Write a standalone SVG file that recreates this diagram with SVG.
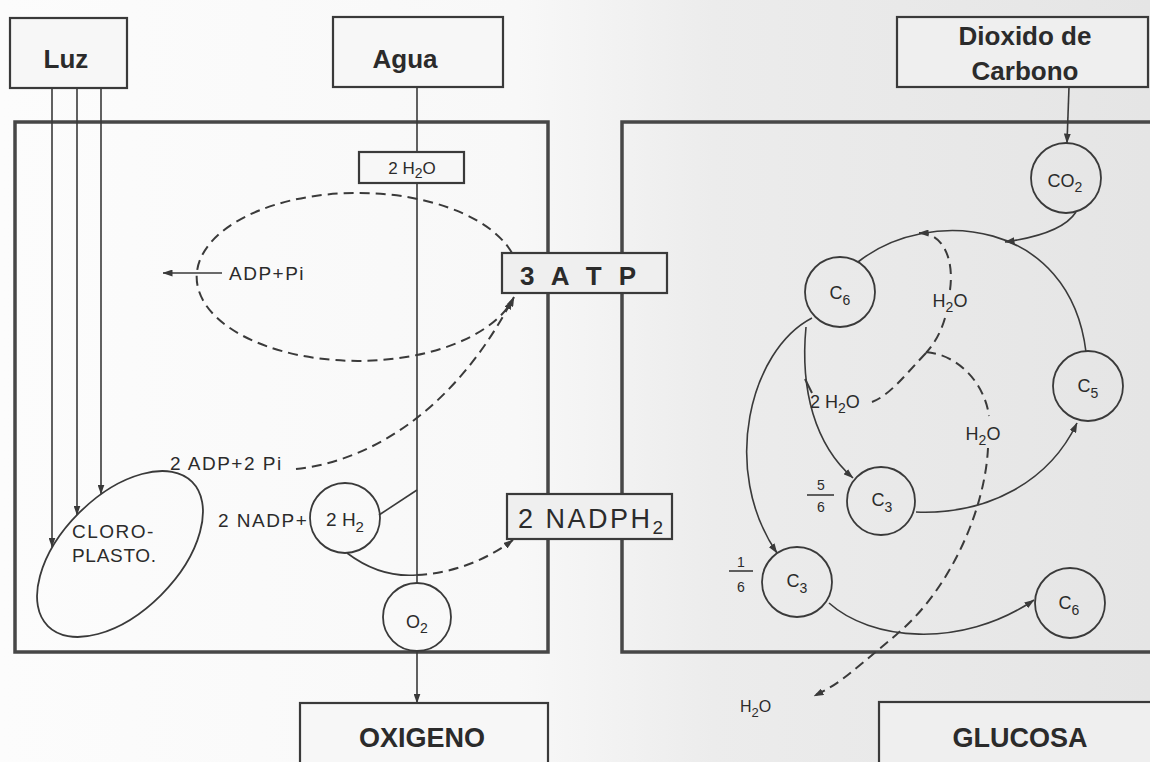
<svg xmlns="http://www.w3.org/2000/svg" width="1150" height="762" viewBox="0 0 1150 762">
<defs>
<linearGradient id="bg" x1="0" y1="0" x2="1" y2="0">
<stop offset="0" stop-color="#fcfcfc"/><stop offset="0.45" stop-color="#f8f8f8"/><stop offset="0.62" stop-color="#ececec"/><stop offset="1" stop-color="#e5e5e5"/>
</linearGradient>
<marker id="arr" viewBox="0 0 10 7" refX="9.5" refY="3.5" markerWidth="10" markerHeight="7" markerUnits="userSpaceOnUse" orient="auto"><path d="M0,0 L10,3.5 L0,7 Z" fill="#3a3a3a"/></marker>
<style>
.ln{fill:none;stroke:#3a3a3a;stroke-width:1.6}
.ds{fill:none;stroke:#3a3a3a;stroke-width:2;stroke-dasharray:10 6}
.box{fill:#f7f7f7;stroke:#3a3a3a;stroke-width:2.2}
.boxg{fill:#efefef;stroke:#3a3a3a;stroke-width:2.2}
.panel{fill:none;stroke:#474747;stroke-width:3.5}
.node{fill:none;stroke:#3a3a3a;stroke-width:1.8}
text{font-family:"Liberation Sans",Arial,sans-serif;fill:#2b2b2b}
.h{font-size:26px;font-weight:bold}
.m{font-size:19px;letter-spacing:1.5px}
.s{font-size:14px}
.c{font-size:18px}
</style>
</defs>
<rect x="0" y="0" width="1150" height="762" fill="url(#bg)"/>

<g id="panel-left"><rect class="panel" x="15" y="122" width="533" height="530"/></g>
<g id="panel-right"><rect class="panel" x="622" y="122" width="545" height="530"/></g>

<g id="connectors">
  <!-- Luz rays -->
  <line class="ln" x1="52" y1="88" x2="52" y2="547" marker-end="url(#arr)"/>
  <line class="ln" x1="77" y1="88" x2="77" y2="515" marker-end="url(#arr)"/>
  <line class="ln" x1="101" y1="88" x2="101" y2="494" marker-end="url(#arr)"/>
  <!-- Agua line -->
  <line class="ln" x1="417" y1="87" x2="417" y2="583"/>
  <!-- O2 to Oxigeno -->
  <line class="ln" x1="417" y1="651" x2="417" y2="703" marker-end="url(#arr)"/>
  <!-- ATP cycle dashed ellipse -->
  <path class="ds" d="M512 253 A161 84 0 1 0 514 297" marker-end="url(#arr)"/>
  <!-- ADP + Pi released -->
  <line class="ln" x1="222" y1="273" x2="163" y2="273" marker-end="url(#arr)"/>
  <!-- 2ADP+2Pi to ATP -->
  <path class="ds" d="M296 469 C380 460 460 400 512 300" marker-end="url(#arr)"/>
  <!-- 2H2 from water -->
  <line class="ln" x1="379" y1="515" x2="417" y2="490"/>
  <path class="ln" d="M347 553 Q380 578 417 575"/>
  <path class="ds" d="M417 575 Q470 572 513 540" marker-end="url(#arr)"/>
  <!-- CO2 -->
  <line class="ln" x1="1069" y1="87" x2="1067" y2="143" marker-end="url(#arr)"/>
  <path class="ln" d="M1076 212 Q1062 234 1005 242" marker-end="url(#arr)"/>
  <!-- Calvin cycle -->
  <path class="ln" d="M858 262 C930 205 1070 220 1086 352"/>
  <path class="ln" d="M812 318 C750 350 720 470 777 553" marker-end="url(#arr)"/>
  <path class="ln" d="M806 327 C800 390 815 445 853 478" marker-end="url(#arr)"/>
  <path class="ln" d="M916 512 C990 515 1050 480 1077 423" marker-end="url(#arr)"/>
  <path class="ln" d="M829 603 C870 640 960 650 1034 600" marker-end="url(#arr)"/>
  <!-- water dashed lines -->
  <path class="ds" d="M950 290 C954 262 945 233 919 233" marker-end="url(#arr)"/>
  <path class="ds" d="M945 318 C940 335 933 345 926 353"/>
  <path class="ds" d="M926 353 C905 375 890 395 872 402"/>
  <path class="ds" d="M926 352 C960 355 985 385 989 416"/>
  <path class="ds" d="M988 448 C985 510 950 590 896 635 S840 683 814 696" marker-end="url(#arr)"/>
  <line class="ds" x1="805" y1="379" x2="812" y2="393" style="stroke-dasharray:none"/>
</g>

<g id="luz"><rect class="box" x="10" y="18" width="117" height="70"/><text class="h" x="66" y="68" text-anchor="middle">Luz</text></g>
<g id="agua"><rect class="box" x="333" y="17" width="170" height="70"/><text class="h" x="405" y="68" text-anchor="middle">Agua</text></g>
<g id="dioxido"><rect class="boxg" x="897" y="17" width="251" height="70"/><text class="h" x="1025" y="45" text-anchor="middle">Dioxido de</text><text class="h" x="1025" y="80" text-anchor="middle">Carbono</text></g>

<g id="h2o-box"><rect class="box" x="359" y="152" width="105" height="31"/><text x="412" y="174" font-size="17" text-anchor="middle">2 H<tspan font-size="14" dy="4">2</tspan><tspan dy="-4">O</tspan></text></g>
<g id="atp"><rect class="boxg" x="502" y="253" width="165" height="40"/><text class="h" x="520" y="285" letter-spacing="5">3 A T P</text></g>
<g id="nadph"><rect class="boxg" x="507" y="494" width="165" height="45"/><text x="518" y="528" font-size="27" letter-spacing="2.5">2 NADPH<tspan font-size="19" dy="6">2</tspan></text></g>

<g id="adp-pi"><text class="m" x="229" y="280">ADP+Pi</text></g>
<g id="adp2"><text class="m" x="170" y="470">2 ADP+2 Pi</text></g>
<g id="nadp"><text class="m" x="218" y="527">2 NADP+</text></g>

<g id="cloroplasto">
  <ellipse class="node" cx="120" cy="554" rx="102" ry="58" transform="rotate(-45 120 554)"/>
  <text class="m" x="72" y="538">CLORO-</text>
  <text x="72" y="562" font-size="19" letter-spacing="0.7">PLASTO.</text>
</g>

<g id="h2-circle"><circle class="node" cx="345" cy="518" r="35"/><text x="345" y="526" font-size="19" text-anchor="middle">2 H<tspan font-size="15" dy="6">2</tspan></text></g>
<g id="o2-circle"><circle class="node" cx="417" cy="617" r="34"/><text x="417" y="628" font-size="18" text-anchor="middle">O<tspan font-size="14" dy="5">2</tspan></text></g>

<g id="oxigeno"><rect class="box" x="300" y="703" width="248" height="75"/><text class="h" x="422" y="747" font-size="27" text-anchor="middle" style="font-size:27px">OXIGENO</text></g>
<g id="glucosa"><rect class="boxg" x="879" y="702" width="290" height="75"/><text class="h" x="1020" y="747" text-anchor="middle" style="font-size:27px">GLUCOSA</text></g>

<g id="co2"><circle class="node" cx="1066" cy="178" r="35"/><text class="c" x="1065" y="187" text-anchor="middle">CO<tspan font-size="14" dy="5">2</tspan></text></g>
<g id="c6-top"><circle class="node" cx="840" cy="292" r="35"/><text class="c" x="840" y="299" text-anchor="middle">C<tspan font-size="14" dy="6">6</tspan></text></g>
<g id="c5"><circle class="node" cx="1088" cy="386" r="35"/><text class="c" x="1088" y="392" text-anchor="middle">C<tspan font-size="14" dy="6">5</tspan></text></g>
<g id="c3-a"><circle class="node" cx="881" cy="501" r="34"/><text class="c" x="882" y="506" text-anchor="middle">C<tspan font-size="14" dy="6">3</tspan></text></g>
<g id="c3-b"><circle class="node" cx="797" cy="582" r="35"/><text class="c" x="797" y="587" text-anchor="middle">C<tspan font-size="14" dy="6">3</tspan></text></g>
<g id="c6-bottom"><circle class="node" cx="1070" cy="603" r="35"/><text class="c" x="1069" y="609" text-anchor="middle">C<tspan font-size="14" dy="6">6</tspan></text></g>

<g id="frac-56"><text class="s" x="821" y="490" text-anchor="middle">5</text><line class="ln" x1="807" y1="495" x2="834" y2="495"/><text class="s" x="821" y="512" text-anchor="middle">6</text></g>
<g id="frac-16"><text class="s" x="741" y="567" text-anchor="middle">1</text><line class="ln" x1="729" y1="571" x2="753" y2="571"/><text class="s" x="741" y="592" text-anchor="middle">6</text></g>

<g id="h2o-1"><text x="950" y="307" font-size="18" text-anchor="middle">H<tspan font-size="14" dy="5">2</tspan><tspan dy="-5">O</tspan></text></g>
<g id="h2o-2"><text x="810" y="408" font-size="18">2 H<tspan font-size="14" dy="5">2</tspan><tspan dy="-5">O</tspan></text></g>
<g id="h2o-3"><text x="983" y="440" font-size="18" text-anchor="middle">H<tspan font-size="14" dy="5">2</tspan><tspan dy="-5">O</tspan></text></g>
<g id="h2o-4"><text x="740" y="712" font-size="16">H<tspan font-size="13" dy="5">2</tspan><tspan dy="-5">O</tspan></text></g>
</svg>
